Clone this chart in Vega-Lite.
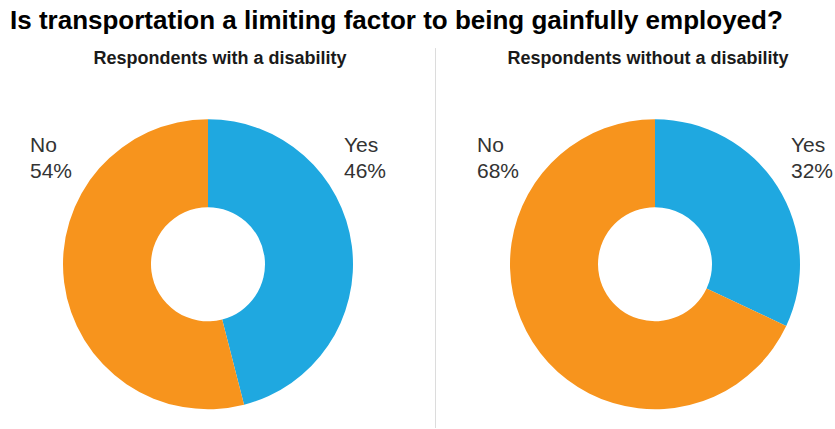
{
  "$schema": "https://vega.github.io/schema/vega-lite/v6.json",
  "autosize": {"type": "fit", "contains": "padding"},
  "width": 835,
  "height": 429,
  "padding": {"left": 10, "top": 8, "right": 0, "bottom": 0},
  "background": "white",
  "title": {
    "text": "Is transportation a limiting factor to being gainfully employed?",
    "anchor": "start",
    "font": "Liberation Sans",
    "fontSize": 26,
    "fontWeight": "bold",
    "color": "#000000",
    "offset": 6
  },
  "config": {"view": {"stroke": null}},
  "data": {
    "values": [
      {"panel": "Respondents with a disability", "category": "Yes", "value": 46, "label": "Yes\n46%"},
      {"panel": "Respondents with a disability", "category": "No", "value": 54, "label": "No\n54%"},
      {"panel": "Respondents without a disability", "category": "Yes", "value": 32, "label": "Yes\n32%"},
      {"panel": "Respondents without a disability", "category": "No", "value": 68, "label": "No\n68%"}
    ]
  },
  "encoding": {
    "x": {
      "field": "panel",
      "type": "ordinal",
      "axis": null,
      "scale": {
        "type": "point",
        "domain": ["Respondents with a disability", "|", "Respondents without a disability"],
        "range": [198, 645],
        "padding": 0
      }
    }
  },
  "layer": [
    {
      "mark": {"type": "rule", "color": "#dcdcdc", "strokeWidth": 1, "xOffset": 4},
      "encoding": {
        "x": {"datum": "|"},
        "y": {"datum": 2.2, "type": "quantitative", "scale": {"domain": [0, 100], "reverse": true}, "axis": null},
        "y2": {"datum": 100}
      }
    },
    {
      "transform": [
        {"stack": "value", "groupby": ["panel"], "sort": [{"field": "category", "order": "descending"}], "as": ["start", "end"]}
      ],
      "mark": {"type": "arc", "innerRadius": 57, "outerRadius": 145},
      "encoding": {
        "y": {"datum": 57.8, "type": "quantitative"},
        "theta": {"field": "start", "type": "quantitative", "scale": {"domain": [0, 100], "range": [0, 6.283185307179586]}},
        "theta2": {"field": "end"},
        "color": {
          "field": "category",
          "type": "nominal",
          "scale": {"domain": ["Yes", "No"], "range": ["#1FA8E0", "#F7941D"]},
          "legend": null
        }
      }
    },
    {
      "transform": [{"filter": "datum.category === 'Yes' && datum.panel === 'Respondents with a disability'"}],
      "mark": {"type": "text", "font": "Liberation Sans", "fontSize": 18, "fontWeight": "bold", "color": "#1a1a1a", "baseline": "middle", "align": "center", "xOffset": 12},
      "encoding": {
        "y": {"datum": 4.9, "type": "quantitative"},
        "text": {"field": "panel"}
      }
    },
    {
      "transform": [{"filter": "datum.category === 'Yes' && datum.panel === 'Respondents without a disability'"}],
      "mark": {"type": "text", "font": "Liberation Sans", "fontSize": 18, "fontWeight": "bold", "color": "#1a1a1a", "baseline": "middle", "align": "center", "xOffset": -7},
      "encoding": {
        "y": {"datum": 4.9, "type": "quantitative"},
        "text": {"field": "panel"}
      }
    },
    {
      "transform": [{"filter": "datum.category === 'No'"}],
      "mark": {"type": "text", "font": "Liberation Sans", "fontSize": 21, "color": "#333333", "align": "left", "baseline": "alphabetic", "lineBreak": "\n", "lineHeight": 26, "dx": -178},
      "encoding": {
        "y": {"datum": 28.8, "type": "quantitative"},
        "text": {"field": "label"}
      }
    },
    {
      "transform": [{"filter": "datum.category === 'Yes'"}],
      "mark": {"type": "text", "font": "Liberation Sans", "fontSize": 21, "color": "#333333", "align": "left", "baseline": "alphabetic", "lineBreak": "\n", "lineHeight": 26, "dx": 136},
      "encoding": {
        "y": {"datum": 28.8, "type": "quantitative"},
        "text": {"field": "label"}
      }
    }
  ]
}
